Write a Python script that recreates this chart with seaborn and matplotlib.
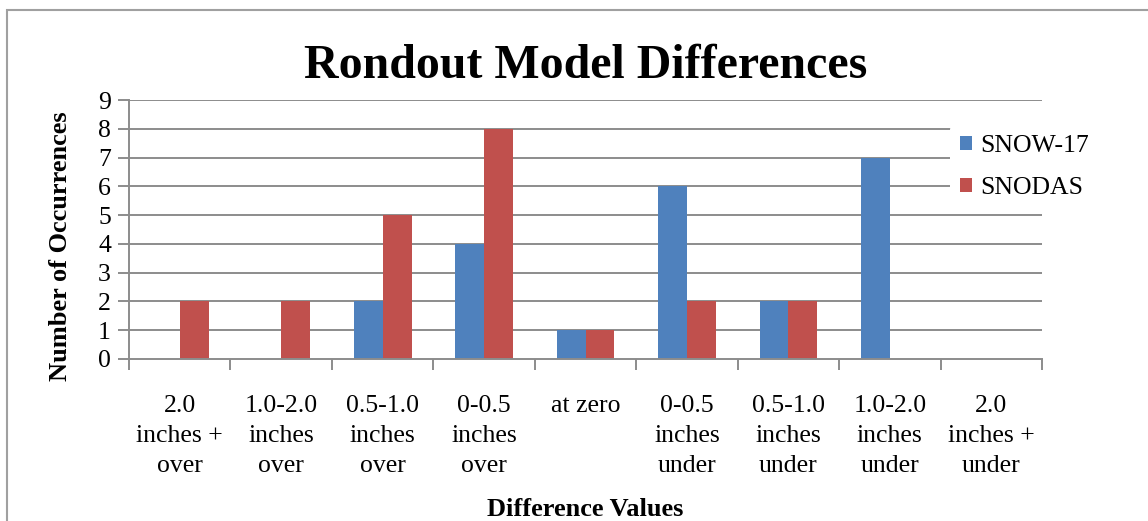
import matplotlib
matplotlib.use("Agg")
import matplotlib.pyplot as plt
import seaborn as sns
import pandas as pd
from matplotlib.patches import Rectangle
from matplotlib.ticker import FixedLocator, NullFormatter

categories = ["2.0\ninches +\nover", "1.0-2.0\ninches\nover", "0.5-1.0\ninches\nover",
              "0-0.5\ninches\nover", "at zero", "0-0.5\ninches\nunder",
              "0.5-1.0\ninches\nunder", "1.0-2.0\ninches\nunder", "2.0\ninches +\nunder"]
snow17 = [0, 0, 2, 4, 1, 6, 2, 7, 0]
snodas = [2, 2, 5, 8, 1, 2, 2, 0, 0]
series_names = ["SNOW-17", "SNODAS"]
colors = ["#4F81BD", "#C0504D"]
yticks = list(range(0, 10))

df = pd.DataFrame({
    "cat": categories * 2,
    "val": snow17 + snodas,
    "series": [series_names[0]] * len(categories) + [series_names[1]] * len(categories),
})

sns.set_theme(style="white")
plt.rcParams['font.family'] = ['Liberation Serif', 'DejaVu Serif']
plt.rcParams['text.color'] = 'black'
plt.rcParams['axes.labelcolor'] = 'black'

fig = plt.figure(figsize=(11.48, 5.21), dpi=100)
ax = fig.add_axes([0.1124, 0.311, 0.7953, 0.497])

sns.barplot(data=df, x="cat", y="val", hue="series", palette=colors, width=0.57,
            saturation=1, ax=ax, order=categories, hue_order=series_names, legend=True,
            linewidth=0)

grid_c = "#8C8C8C"
ax.set_ylim(0, 9)
ax.set_xlim(-0.5, len(categories) - 0.5)
ax.set_yticks(yticks)
ax.set_yticklabels([str(v) for v in yticks], fontsize=18.5)
ax.set_xticks(range(len(categories)))
ax.set_xticklabels(categories, fontsize=18.5, linespacing=1.48)
for v in yticks[1:]:
    ax.axhline(v, color=grid_c, lw=1.4, zorder=0)
ax.set_axisbelow(True)

ax.tick_params(axis='x', which='major', length=0, pad=26, labelcolor='black')
ax.xaxis.set_minor_locator(FixedLocator([i - 0.5 for i in range(len(categories) + 1)]))
ax.xaxis.set_minor_formatter(NullFormatter())
ax.tick_params(axis='x', which='minor', length=8, width=1.4, color=grid_c, direction='out', bottom=True)
ax.tick_params(axis='y', length=8, width=1.4, color=grid_c, direction='out', left=True, pad=5,
               labelcolor='black')

for s in ["top", "right"]:
    ax.spines[s].set_visible(False)
for s in ["left", "bottom"]:
    ax.spines[s].set_color(grid_c)
    ax.spines[s].set_linewidth(1.4)

ax.set_xlabel("Difference Values", fontsize=19, fontweight="bold")
ax.xaxis.set_label_coords(0.5, -0.535)
ax.set_ylabel("Number of Occurrences", fontsize=19, fontweight="bold")
ax.yaxis.set_label_coords(-0.0624, 0.435)
ax.set_title("Rondout Model Differences", fontsize=34.5, fontweight="bold", pad=16, color="black")

leg = ax.legend(loc="upper left", bbox_to_anchor=(0.899, 0.905), frameon=True,
                facecolor="white", edgecolor="none", framealpha=1, borderaxespad=0,
                fontsize=18.5, handlelength=0.47, handleheight=0.47, handletextpad=0.3,
                labelspacing=0.79, borderpad=0.4)
for t in leg.get_texts():
    t.set_color("black")

fig.patches.append(Rectangle((7 / 1148, -0.1), 1.2, 1 - 10 / 521 + 0.1, transform=fig.transFigure,
                             fill=False, edgecolor="#A0A0A0", lw=1.5, zorder=-1))

fig.savefig("out.png", dpi=100, facecolor="white")
